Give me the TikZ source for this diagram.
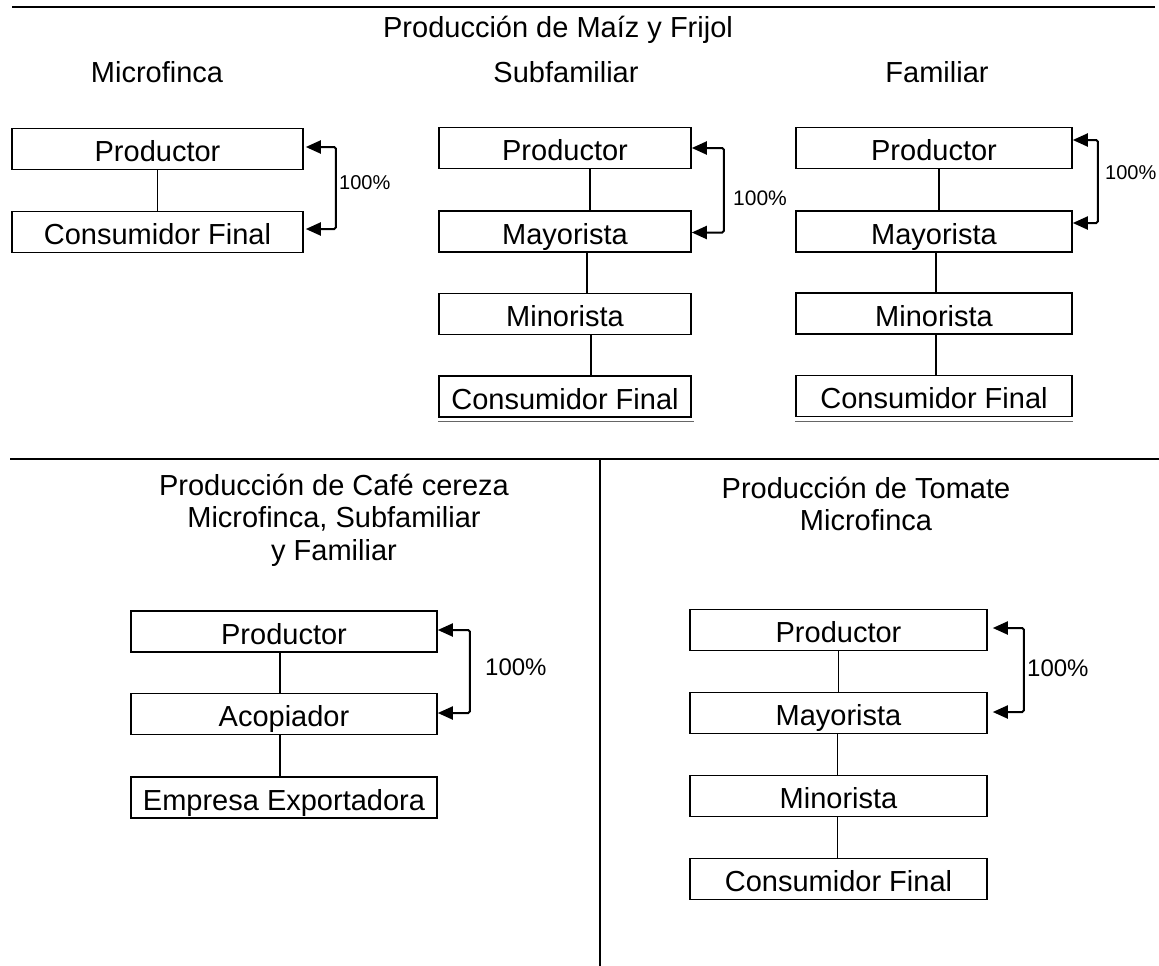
\documentclass[tikz,border=0pt]{standalone}
\usepackage{fontspec}
\setmainfont{Liberation Sans}
\usetikzlibrary{arrows.meta}
\begin{document}
\begin{tikzpicture}[x=1pt,y=-1pt,
  box/.style={draw, line width=1.6pt, minimum height=41pt, inner sep=0pt, text height=25pt, text depth=0pt, font=\fontsize{29}{32}\selectfont},
  ttl/.style={font=\fontsize{29}{32.5}\selectfont, align=center, inner sep=0pt},
  pct/.style={inner sep=0pt, anchor=west},
  link/.style={line width=1.6pt},
  flow/.style={line width=2pt, rounded corners=1.5pt, {Triangle[length=15pt,width=13pt]}-{Triangle[length=15pt,width=13pt]}},
  rule/.style={line width=2pt},
  shade/.style={line width=1.2pt, black!60}]
\useasboundingbox (0,0) rectangle (1159,966);
% frame lines
\coordinate (topL) at (12,7);
\coordinate (topR) at (1155,7);
\coordinate (midL) at (10,459);
\coordinate (midR) at (1159,459);
\coordinate (midC) at (600,459);
\coordinate (botC) at (600,966);
\draw[rule] (topL) -- (topR);
\draw[rule] (midL) -- (midR);
\draw[link] (midC) -- (botC);
% titles
\node[ttl] (t1) at (558,30) {Producción de Maíz y Frijol};
\node[ttl] (h1) at (157,72) {Microfinca};
\node[ttl] (h2) at (566,72) {Subfamiliar};
\node[ttl] (h3) at (937,72) {Familiar};
\node[ttl] (h4) at (334,520) {Producción de Café cereza\\Microfinca, Subfamiliar\\y Familiar};
\node[ttl] (h5) at (866,504) {Producción de Tomate\\Microfinca};
% Microfinca
\node[box, minimum width=291pt] (m1) at (157.5,149) {Productor};
\node[box, minimum width=291pt] (m2) at (157.5,232) {Consumidor Final};
\draw[link] (m1) -- (m2);
\draw[flow] ([shift={(2,-2)}]m1.east) -- ++(30,0) |- ([shift={(2,-3)}]m2.east);
\node[pct, font=\fontsize{20}{22}\selectfont] (p1) at (339,183) {100\%};
% Subfamiliar
\node[box, minimum width=252pt] (s1) at (565,148) {Productor};
\node[box, minimum width=252pt] (s2) at (565,231.5) {Mayorista};
\node[box, minimum width=252pt] (s3) at (565,314) {Minorista};
\node[box, minimum width=252pt] (s4) at (565,396.5) {Consumidor Final};
\draw[link] ([xshift=25]s1.south) -- ([xshift=25]s2.north);
\draw[link] ([xshift=22]s2.south) -- ([xshift=22]s3.north);
\draw[link] ([xshift=26]s3.south) -- ([xshift=26]s4.north);
\draw[shade] ([yshift=-4]s4.south west) -- ([yshift=-4,xshift=2]s4.south east);
\draw[flow] (s1.east) -- ++(32,0) |- ([yshift=-1]s2.east);
\node[pct, font=\fontsize{21}{23}\selectfont] (p2) at (733,198) {100\%};
% Familiar
\node[box, minimum width=276pt] (f1) at (934,148) {Productor};
\node[box, minimum width=276pt] (f2) at (934,231.5) {Mayorista};
\node[box, minimum width=276pt] (f3) at (934,313.5) {Minorista};
\node[box, minimum width=276pt] (f4) at (934,396) {Consumidor Final};
\draw[link] ([xshift=5]f1.south) -- ([xshift=5]f2.north);
\draw[link] ([xshift=2]f2.south) -- ([xshift=2]f3.north);
\draw[link] ([xshift=2]f3.south) -- ([xshift=2]f4.north);
\draw[shade] ([yshift=-4]f4.south west) -- ([yshift=-4]f4.south east);
\draw[flow] ([yshift=8]f1.east) -- ++(25,0) |- ([yshift=8.5]f2.east);
\node[pct, font=\fontsize{20}{22}\selectfont] (p3) at (1105,173) {100\%};
% Cafe
\node[box, minimum width=306pt] (c1) at (284,631.5) {Productor};
\node[box, minimum width=306pt] (c2) at (284,714) {Acopiador};
\node[box, minimum width=306pt] (c3) at (284,797.5) {Empresa Exportadora};
\draw[link] ([xshift=-4]c1.south) -- ([xshift=-4]c2.north);
\draw[link] ([xshift=-4]c2.south) -- ([xshift=-4]c3.north);
\draw[flow] ([yshift=1.5]c1.east) -- ++(32,0) |- ([yshift=1]c2.east);
\node[pct, font=\fontsize{24}{26}\selectfont] (p4) at (485,667) {100\%};
% Tomate
\node[box, minimum width=297pt] (u1) at (838.5,630) {Productor};
\node[box, minimum width=297pt] (u2) at (838.5,713) {Mayorista};
\node[box, minimum width=297pt] (u3) at (838.5,796) {Minorista};
\node[box, minimum width=297pt] (u4) at (838.5,879) {Consumidor Final};
\draw[link] (u1) -- (u2);
\draw[link] ([xshift=-1]u2.south) -- ([xshift=-1]u3.north);
\draw[link] ([xshift=-1]u3.south) -- ([xshift=-1]u4.north);
\draw[flow] ([shift={(5,-2)}]u1.east) -- ++(31,0) |- ([shift={(5,-1)}]u2.east);
\node[pct, font=\fontsize{24}{26}\selectfont] (p5) at (1027,668) {100\%};
\end{tikzpicture}
\end{document}
